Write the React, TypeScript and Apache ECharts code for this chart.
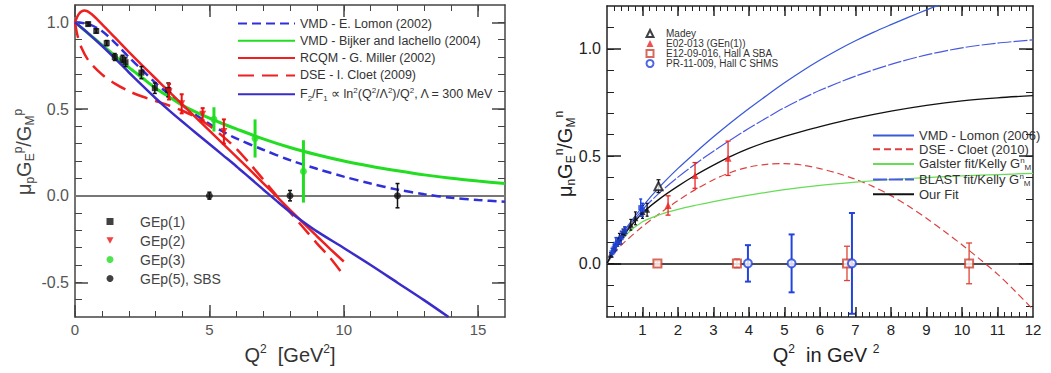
import React, { useEffect, useRef } from 'react';
import * as echarts from 'echarts';

const FONT = '"Liberation Sans", Arial, Helvetica, sans-serif';

// ---------- Left panel (proton): model curves [Q2, mu_p GE/GM] ----------
const lomon2002 = [[0,1.0],[0.5,0.99],[1,0.95],[1.5,0.88],[2,0.8],[2.5,0.725],[3,0.65],[3.5,0.585],[4,0.52],[4.5,0.465],[5,0.415],[5.5,0.37],[6,0.33],[7,0.265],[8,0.205],[9,0.155],[10,0.11],[11,0.07],[12,0.035],[13,0.008],[14,-0.012],[15,-0.025],[16,-0.035]];
const bijker2004 = [[0,1.0],[0.5,0.935],[1,0.87],[1.5,0.805],[2,0.74],[2.5,0.68],[3,0.62],[3.5,0.57],[4,0.522],[4.5,0.482],[5,0.447],[5.5,0.415],[6,0.385],[7,0.328],[8,0.278],[9,0.236],[10,0.2],[11,0.17],[12,0.144],[13,0.12],[14,0.1],[15,0.084],[16,0.07]];
const miller2002 = [[0,1.0],[0.15,1.05],[0.35,1.068],[0.6,1.05],[1,0.99],[1.5,0.91],[2,0.83],[2.5,0.752],[3,0.676],[3.5,0.6],[4,0.525],[4.5,0.45],[5,0.375],[5.5,0.3],[6,0.225],[6.5,0.15],[7,0.073],[7.5,-0.004],[8,-0.082],[8.5,-0.158],[9,-0.234],[9.5,-0.308],[10,-0.38]];
const cloet2009 = [[0,1.0],[0.1,0.92],[0.25,0.85],[0.5,0.78],[1,0.7],[1.5,0.645],[2,0.603],[2.5,0.572],[3,0.546],[3.5,0.52],[4,0.49],[4.5,0.452],[5,0.403],[5.5,0.342],[6,0.272],[6.5,0.186],[7,0.094],[7.5,0.0],[8,-0.095],[8.5,-0.185],[9,-0.275],[9.5,-0.36],[9.9,-0.44]];
const f2f1Log = [[0,1.0],[0.5,0.935],[1,0.865],[1.5,0.79],[2,0.712],[2.5,0.636],[3,0.562],[3.5,0.492],[4,0.426],[4.5,0.362],[5,0.298],[5.5,0.234],[6,0.17],[6.5,0.103],[7,0.036],[7.5,-0.03],[8,-0.094],[8.5,-0.152],[9,-0.206],[10,-0.302],[11,-0.4],[12,-0.502],[13,-0.604],[13.9,-0.7]];

// ---------- Left panel data [Q2, value, error] ----------
const gep1 = [[0.49,0.99,0.01],[0.79,0.95,0.012],[1.18,0.88,0.015],[1.48,0.8,0.02],[1.77,0.79,0.02],[1.88,0.77,0.025],[2.47,0.71,0.035],[2.97,0.62,0.03],[3.47,0.61,0.04]];
const gep2 = [[3.5,0.6,0.045],[3.97,0.53,0.055],[4.75,0.47,0.035],[5.54,0.37,0.07]];
const gep3 = [[5.17,0.44,0.07],[6.7,0.33,0.11],[8.5,0.14,0.18]];
const gep5 = [[5.0,0,0.02],[8.0,0,0.03],[12.0,0,0.07]];

// ---------- Right panel (neutron): model curves [Q2, mu_n GE/GM] ----------
const lomon2006 = [[0,0],[0.25,0.085],[0.5,0.155],[1,0.265],[1.5,0.36],[2,0.443],[2.5,0.518],[3,0.59],[3.5,0.658],[4,0.722],[4.5,0.783],[5,0.842],[5.5,0.897],[6,0.948],[6.5,0.995],[7,1.038],[7.5,1.077],[8,1.113],[8.5,1.148],[9,1.182],[9.5,1.215]];
const cloet2010 = [[0,0],[0.25,0.058],[0.5,0.1],[1,0.172],[1.5,0.235],[2,0.293],[2.5,0.345],[3,0.39],[3.5,0.425],[4,0.449],[4.5,0.462],[5,0.465],[5.5,0.458],[6,0.442],[6.5,0.42],[7,0.392],[7.5,0.358],[8,0.316],[8.5,0.266],[9,0.21],[9.5,0.15],[10,0.087],[10.5,0.02],[11,-0.05],[11.5,-0.13],[12,-0.215]];
const galster = [[0,0],[0.25,0.07],[0.5,0.128],[1,0.194],[1.5,0.228],[2,0.252],[2.5,0.271],[3,0.288],[4,0.318],[5,0.344],[6,0.364],[7,0.379],[8,0.391],[9,0.4],[10,0.408],[11,0.414],[12,0.42]];
const blastFit = [[0,0],[0.25,0.08],[0.5,0.145],[1,0.25],[1.5,0.332],[2,0.402],[2.5,0.465],[3,0.523],[3.5,0.578],[4,0.63],[4.5,0.679],[5,0.726],[5.5,0.768],[6,0.807],[7,0.873],[8,0.928],[9,0.972],[10,1.005],[11,1.027],[12,1.042]];
const ourFit = [[0,0],[0.25,0.075],[0.5,0.138],[1,0.235],[1.5,0.303],[2,0.36],[2.5,0.412],[3,0.458],[3.5,0.5],[4,0.536],[4.5,0.566],[5,0.592],[5.5,0.616],[6,0.638],[7,0.677],[8,0.71],[9,0.737],[10,0.758],[11,0.772],[12,0.782]];

// ---------- Right panel data [Q2, value, error] ----------
const madey = [[1.45,0.36,0.03]];
const e02013 = [[1.72,0.27,0.045],[2.48,0.41,0.06],[3.41,0.49,0.08]];
const e1209016 = [[1.42,0,0.008],[3.66,0,0.02],[6.76,0,0.08],[10.2,0,0.095]];
const pr11009 = [[3.97,0,0.085],[5.2,0,0.135],[6.9,0,0.235]];
const worldBlack = [[0.1,0.04,0.01],[0.2,0.07,0.015],[0.3,0.1,0.02],[0.35,0.12,0.02],[0.45,0.14,0.02],[0.5,0.15,0.02],[0.67,0.18,0.025],[0.8,0.21,0.03],[1.0,0.24,0.03],[1.13,0.25,0.03]];
const worldBlue = [[0.14,0.05,0.02],[0.2,0.07,0.02],[0.25,0.09,0.03],[0.3,0.1,0.02],[0.4,0.12,0.03],[0.5,0.15,0.02],[0.95,0.26,0.04],[1.0,0.25,0.03]];

// ---------- Ticks ----------
function steps(a: number, b: number, step: number): number[] {
  const out: number[] = [];
  const n = Math.round((b - a) / step);
  for (let i = 0; i <= n; i++) out.push(Math.round((a + i * step) * 1000) / 1000);
  return out;
}
const pXMinor = steps(0, 15, 1);
const pXMajor = [0, 5, 10, 15];
const pYMinor = steps(-0.6, 1.0, 0.1);
const pYMajor = [-0.5, 0, 0.5, 1.0];
const nXMinor = steps(0.2, 11.8, 0.2);
const nXMajor = steps(1, 11, 1);
const nXLabels = steps(1, 12, 1);
const nYMinor = steps(-0.2, 1.1, 0.1);
const nYMajor = [0, 0.5, 1.0];

function axes(dim: 'x' | 'y', gridIndex: number, min: number, max: number, minor: number[], major: number[], labels: number[],
  color: string, minLen: number, majLen: number, label: any, fmt: (v: number) => string) {
  const sideA = dim === 'x' ? 'bottom' : 'left';
  const sideB = dim === 'x' ? 'top' : 'right';
  const base = { type: 'value', gridIndex, min, max, splitLine: { show: false }, silent: true };
  const line = { color, width: 1.5 };
  return [
    { ...base, position: sideA, axisLine: { show: true, onZero: false, lineStyle: line }, axisTick: { show: true, inside: true, length: minLen, customValues: minor, lineStyle: { color, width: 1 } }, axisLabel: { show: false } },
    { ...base, position: sideA, axisLine: { show: false, onZero: false }, axisTick: { show: true, inside: true, length: majLen, customValues: major, lineStyle: { color, width: 1.5 } }, axisLabel: { show: true, customValues: labels, formatter: fmt, fontFamily: FONT, ...label } },
    { ...base, position: sideB, axisLine: { show: true, onZero: false, lineStyle: line }, axisTick: { show: true, inside: true, length: minLen, customValues: minor, lineStyle: { color, width: 1 } }, axisLabel: { show: false } },
    { ...base, position: sideB, axisLine: { show: false, onZero: false }, axisTick: { show: true, inside: true, length: majLen, customValues: major, lineStyle: { color, width: 1.5 } }, axisLabel: { show: false } },
  ];
}

const errorBars = (color: string, width: number, cap: number) => (_p: any, api: any) => {
  const x = api.value(0);
  const y = api.value(1);
  const e = api.value(2);
  const hi = api.coord([x, y + e]);
  const lo = api.coord([x, y - e]);
  const style = { stroke: color, lineWidth: width };
  const children: any[] = [{ type: 'line', shape: { x1: hi[0], y1: hi[1], x2: lo[0], y2: lo[1] }, style }];
  if (cap > 0) {
    children.push({ type: 'line', shape: { x1: hi[0] - cap, y1: hi[1], x2: hi[0] + cap, y2: hi[1] }, style });
    children.push({ type: 'line', shape: { x1: lo[0] - cap, y1: lo[1], x2: lo[0] + cap, y2: lo[1] }, style });
  }
  return { type: 'group', children };
};

function points(name: string, data: number[][], xi: number, yi: number, symbol: string, size: number, color: string,
  errColor: string, errWidth: number, cap: number, extra: any = {}) {
  return [
    {
      name: name + ' err', type: 'custom', coordinateSystem: 'cartesian2d', xAxisIndex: xi, yAxisIndex: yi,
      data, encode: { x: 0, y: 1 }, renderItem: errorBars(errColor, errWidth, cap), clip: true, z: 4, silent: true,
    },
    {
      name, type: 'scatter', xAxisIndex: xi, yAxisIndex: yi, data: data.map((d) => [d[0], d[1]]),
      symbol, symbolSize: size, itemStyle: { color }, z: 5, silent: true, ...extra,
    },
  ];
}

function curve(name: string, data: number[][], xi: number, yi: number, color: string, width: number, type: any) {
  return {
    name, type: 'line', xAxisIndex: xi, yAxisIndex: yi, data, symbol: 'none', showSymbol: false,
    smooth: 0.3, clip: true, z: 3, silent: true,
    lineStyle: { color, width, type }, itemStyle: { color },
  };
}

const richSS = (size: number, lh: number) => ({
  n: { fontSize: size, lineHeight: lh, fontFamily: FONT },
  sup: { fontSize: Math.round(size * 0.62), lineHeight: Math.round(lh * 0.55), verticalAlign: 'top', fontFamily: FONT },
  sub: { fontSize: Math.round(size * 0.62), lineHeight: Math.round(lh * 0.55), verticalAlign: 'bottom', fontFamily: FONT },
});

export default function App() {
  const ref = useRef<HTMLDivElement>(null);
  useEffect(() => {
    if (!ref.current) return;
    const chart = echarts.init(ref.current, undefined, { renderer: 'svg' });
    const pLabel = { fontSize: 15, color: '#555' };
    const nLabel = { fontSize: 15, color: '#222' };
    const xAxis = [
      ...axes('x', 0, 0, 16, pXMinor, pXMajor, pXMajor, '#444', 6, 12, { ...pLabel, margin: 5 }, (v) => String(v)),
      ...axes('x', 1, 0, 12, nXMinor, nXMajor, nXLabels, '#222', 5, 10, { ...nLabel, margin: 5 }, (v) => String(v)),
    ];
    const yAxis = [
      ...axes('y', 0, -0.7, 1.1, pYMinor, pYMajor, pYMajor, '#444', 7, 13, { ...pLabel, fontSize: 16, margin: 6 }, (v) => v.toFixed(1)),
      ...axes('y', 1, -0.25, 1.2, nYMinor, nYMajor, nYMajor, '#222', 7, 14, { ...nLabel, fontSize: 16, margin: 6 }, (v) => v.toFixed(1)),
    ];
    const PX = 0, PY = 0, NX = 4, NY = 4;

    const series: any[] = [
      curve('VMD - E. Lomon (2002)', lomon2002, PX, PY, '#3030d8', 2.5, [9, 5]),
      curve('VMD - Bijker and Iachello (2004)', bijker2004, PX, PY, '#22dd22', 3, 'solid'),
      curve('RCQM - G. Miller (2002)', miller2002, PX, PY, '#ee2020', 2.5, 'solid'),
      curve('DSE - I. Cloet (2009)', cloet2009, PX, PY, '#ee2020', 2.5, [16, 8]),
      curve('F2F1', f2f1Log, PX, PY, '#3a2cc8', 2.5, 'solid'),
      ...points('GEp(1)', gep1, PX, PY, 'rect', 6, '#111', '#111', 1.5, 2),
      ...points('GEp(2)', gep2, PX, PY, 'triangle', 7, '#ee1111', '#ee1111', 2, 2, { symbolRotate: 180 }),
      ...points('GEp(3)', gep3, PX, PY, 'circle', 7, '#22dd22', '#22dd22', 3, 0),
      ...points('GEp(5), SBS', gep5, PX, PY, 'circle', 7, '#111', '#111', 1.5, 2, {
        markLine: { silent: true, symbol: 'none', label: { show: false }, lineStyle: { color: '#777', width: 2, type: 'solid' }, data: [{ yAxis: 0 }], z: 2 },
      }),

      curve('VMD - Lomon (2006)', lomon2006, NX, NY, '#3a5ad8', 1.3, 'solid'),
      curve('DSE - Cloet (2010)', cloet2010, NX, NY, '#dd4040', 1.2, [7, 4]),
      curve('Galster', galster, NX, NY, '#66dd55', 1.2, 'solid'),
      curve('BLAST', blastFit, NX, NY, '#4a5ae0', 1.2, [14, 2]),
      curve('Our Fit', ourFit, NX, NY, '#111', 1.3, 'solid'),
      ...points('World', worldBlack, NX, NY, 'triangle', 6, '#111', '#111', 1.2, 1.5),
      ...points('World blue', worldBlue, NX, NY, 'rect', 5, '#2244dd', '#2244dd', 1.5, 1.5),
      ...points('Madey', madey, NX, NY, 'emptyTriangle', 8, '#111', '#111', 1.2, 2),
      ...points('E02-013 (GEn(1))', e02013, NX, NY, 'triangle', 7, '#ee2222', '#ee2222', 1.3, 2.5),
      ...points('E12-09-016, Hall A SBA', e1209016, NX, NY, 'emptyRect', 8, '#cc4433', '#dd4433', 1.3, 3, {
        markLine: { silent: true, symbol: 'none', label: { show: false }, lineStyle: { color: '#111', width: 1.5, type: 'solid' }, data: [{ yAxis: 0 }], z: 2 },
      }),
      ...points('PR-11-009, Hall C SHMS', pr11009, NX, NY, 'emptyCircle', 8, '#2244dd', '#2244dd', 2, 3),
    ];

    const rich14 = richSS(12.5, 16);
    const richR = richSS(13, 15);

    const option: any = {
      animation: false,
      backgroundColor: '#fff',
      grid: [
        { left: 75, top: 5, width: 430, height: 312 },
        { left: 607, top: 6, width: 426, height: 311 },
      ],
      xAxis,
      yAxis,
      legend: [
        {
          data: ['VMD - E. Lomon (2002)', 'VMD - Bijker and Iachello (2004)', 'RCQM - G. Miller (2002)', 'DSE - I. Cloet (2009)', 'F2F1'],
          orient: 'vertical', left: 237, top: 17, padding: 0, itemWidth: 57, itemHeight: 14, itemGap: 4.3, selectedMode: false,
          itemStyle: { opacity: 0 },
          textStyle: { fontSize: 12.5, color: '#333', fontFamily: FONT, rich: rich14 },
          formatter: (name: string) => name === 'F2F1'
            ? '{n|F}{sub|2}{n|/F}{sub|1}{n| ∝ ln}{sup|2}{n|(Q}{sup|2}{n|/Λ}{sup|2}{n|)/Q}{sup|2}{n|, Λ = 300 MeV}'
            : '{n|' + name + '}',
        },
        {
          data: ['GEp(1)', { name: 'GEp(2)', icon: 'path://M0,0L10,0L5,9Z' }, 'GEp(3)', 'GEp(5), SBS'],
          orient: 'vertical', left: 106.5, top: 213, padding: 0, itemWidth: 7, itemHeight: 7, itemGap: 2, selectedMode: false,
          textStyle: { fontSize: 14, lineHeight: 17, color: '#444', fontFamily: FONT, rich: { sp: { width: 21.5 }, n: { fontSize: 14, lineHeight: 17, fontFamily: FONT } } },
          formatter: (name: string) => '{sp|}{n|' + name + '}',
        },
        {
          data: ['Madey', 'E02-013 (GEn(1))', 'E12-09-016, Hall A SBA', 'PR-11-009, Hall C SHMS'],
          orient: 'vertical', left: 645.5, top: 28.5, padding: 0, itemWidth: 7, itemHeight: 7, itemGap: 0, selectedMode: false,
          textStyle: { fontSize: 10, lineHeight: 9.7, color: '#333', fontFamily: FONT, rich: { sp: { width: 7.5 }, n: { fontSize: 10, lineHeight: 9.7, fontFamily: FONT } } },
          formatter: (name: string) => '{sp|}{n|' + name + '}',
        },
        {
          data: ['VMD - Lomon (2006)', 'DSE - Cloet (2010)', 'Galster', 'BLAST', 'Our Fit'],
          orient: 'vertical', left: 872, top: 129, padding: 0, itemWidth: 41, itemHeight: 10, itemGap: 0.7, selectedMode: false,
          itemStyle: { opacity: 0 },
          textStyle: { fontSize: 13, color: '#333', fontFamily: FONT, rich: richR },
          formatter: (name: string) => {
            if (name === 'Galster') return '{n|Galster fit/Kelly G}{sup|n}{sub|M}';
            if (name === 'BLAST') return '{n|BLAST fit/Kelly G}{sup|n}{sub|M}';
            return '{n|' + name + '}';
          },
        },
      ],
      graphic: [
        {
          type: 'text', x: 290, y: 355, silent: true,
          style: { text: '{n|Q}{sup|2}{n|  [GeV}{sup|2}{n|]}', rich: richSS(20, 24), fill: '#333', align: 'center', verticalAlign: 'middle' },
        },
        {
          type: 'text', x: 826, y: 355, silent: true,
          style: { text: '{n|Q}{sup|2}{n|  in GeV }{sup|2}', rich: richSS(20, 24), fill: '#222', align: 'center', verticalAlign: 'middle' },
        },
        {
          type: 'text', x: 24, y: 152, rotation: Math.PI / 2, silent: true,
          style: { text: '{n|μ}{sub|p}{n|G}{sub|E}{sup|p}{n|/G}{sub|M}{sup|p}', rich: richSS(20, 24), fill: '#444', align: 'center', verticalAlign: 'middle' },
        },
        {
          type: 'text', x: 565, y: 154, rotation: Math.PI / 2, silent: true,
          style: { text: '{n|μ}{sub|n}{n|G}{sub|E}{sup|n}{n|/G}{sub|M}{sup|n}', rich: richSS(20, 24), fill: '#222', align: 'center', verticalAlign: 'middle' },
        },
      ],
      series,
    };
    chart.setOption(option);
    return () => chart.dispose();
  }, []);
  return <div ref={ref} style={{ position: 'absolute', left: 0, top: 0, width: 1051, height: 373, background: '#fff' }} />;
}
